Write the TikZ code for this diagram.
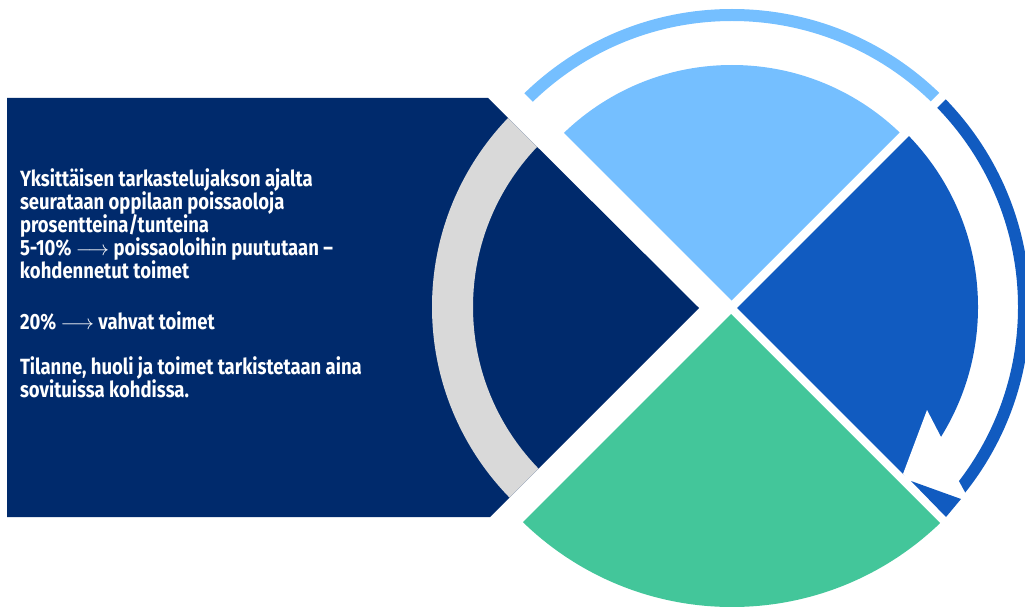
\documentclass[tikz,border=0pt]{standalone}
\usepackage{fontspec}
\setmainfont{Fira Sans}[FakeStretch=0.84]
\newcommand*{\panelfont}{\bfseries\fontsize{22}{23}\selectfont}
\definecolor{N}{RGB}{0,42,108}
\definecolor{L}{RGB}{117,191,255}
\definecolor{B}{RGB}{17,91,192}
\definecolor{G}{RGB}{67,198,154}
\definecolor{S}{RGB}{217,217,217}
\usetikzlibrary{positioning}
\tikzstyle{base}=[x=1pt, y=-1pt, inner sep=0pt, outer sep=0pt]
\tikzstyle{txt}=[white, anchor=base west, align=left, font=\panelfont]

\begin{document}
\begin{tikzpicture}[base]
    \useasboundingbox (0,0) rectangle (1025,607);
    % left panel with grey arc
    \fill [N] (7,98) -- (488,98) -- (699,308) -- (490,517) -- (7,517) -- cycle;
    \begin{scope}
        \clip (7,98) -- (488,98) -- (699,308) -- (490,517) -- (7,517) -- cycle;
        \fill [S, even odd rule] (705,307) circle (273) (705,307) circle (232);
    \end{scope}
    % top quarter
    \begin{scope}
        \clip (731.5,300.5) -- (381,-50) -- (1082,-50) -- cycle;
        \fill [L] (732,307) circle (242);
        \fill [L, even odd rule] (732,307) circle (298) (732,307) circle (286);
    \end{scope}
    % right quarter
    \begin{scope}
        \clip (737,308) -- (1095,-50) -- (1300,-50) -- (1300,871) -- cycle;
        \fill [B] (732,307) circle (246);
    \end{scope}
    \begin{scope}
        \clip (819.5,225.5) -- (1095,-50) -- (1300,-50) -- (1300,1106) -- cycle;
        \fill [B, even odd rule] (732,307) circle (298) (732,307) circle (286);
    \end{scope}
    % bottom quarter
    \begin{scope}
        \clip (731,314) -- (381,664) -- (1081,664) -- cycle;
        \fill [G] (732,307) circle (300);
    \end{scope}
    % arrow head
    \fill [white] (903,474) -- (927,410) -- (941,437) -- (960,450) -- (915,490) -- cycle;
    \fill [B] (911,481) -- (961,499) -- (946,517) -- cycle;
    % texts (anchored at the last baseline)
    \node [txt] (intro) at (20,278) {Yksittäisen tarkastelujakson ajalta\\
        seurataan oppilaan poissaoloja\\
        prosentteina/tunteina\\
        5-10\% $\longrightarrow$ poissaoloihin puututaan --\\
        kohdennetut toimet};
    \node [txt] (strong) at (20,329) {20\% $\longrightarrow$ vahvat toimet};
    \node [txt] (check) at (20,397) {Tilanne, huoli ja toimet tarkistetaan aina\\
        sovituissa kohdissa.};
\end{tikzpicture}
\end{document}
